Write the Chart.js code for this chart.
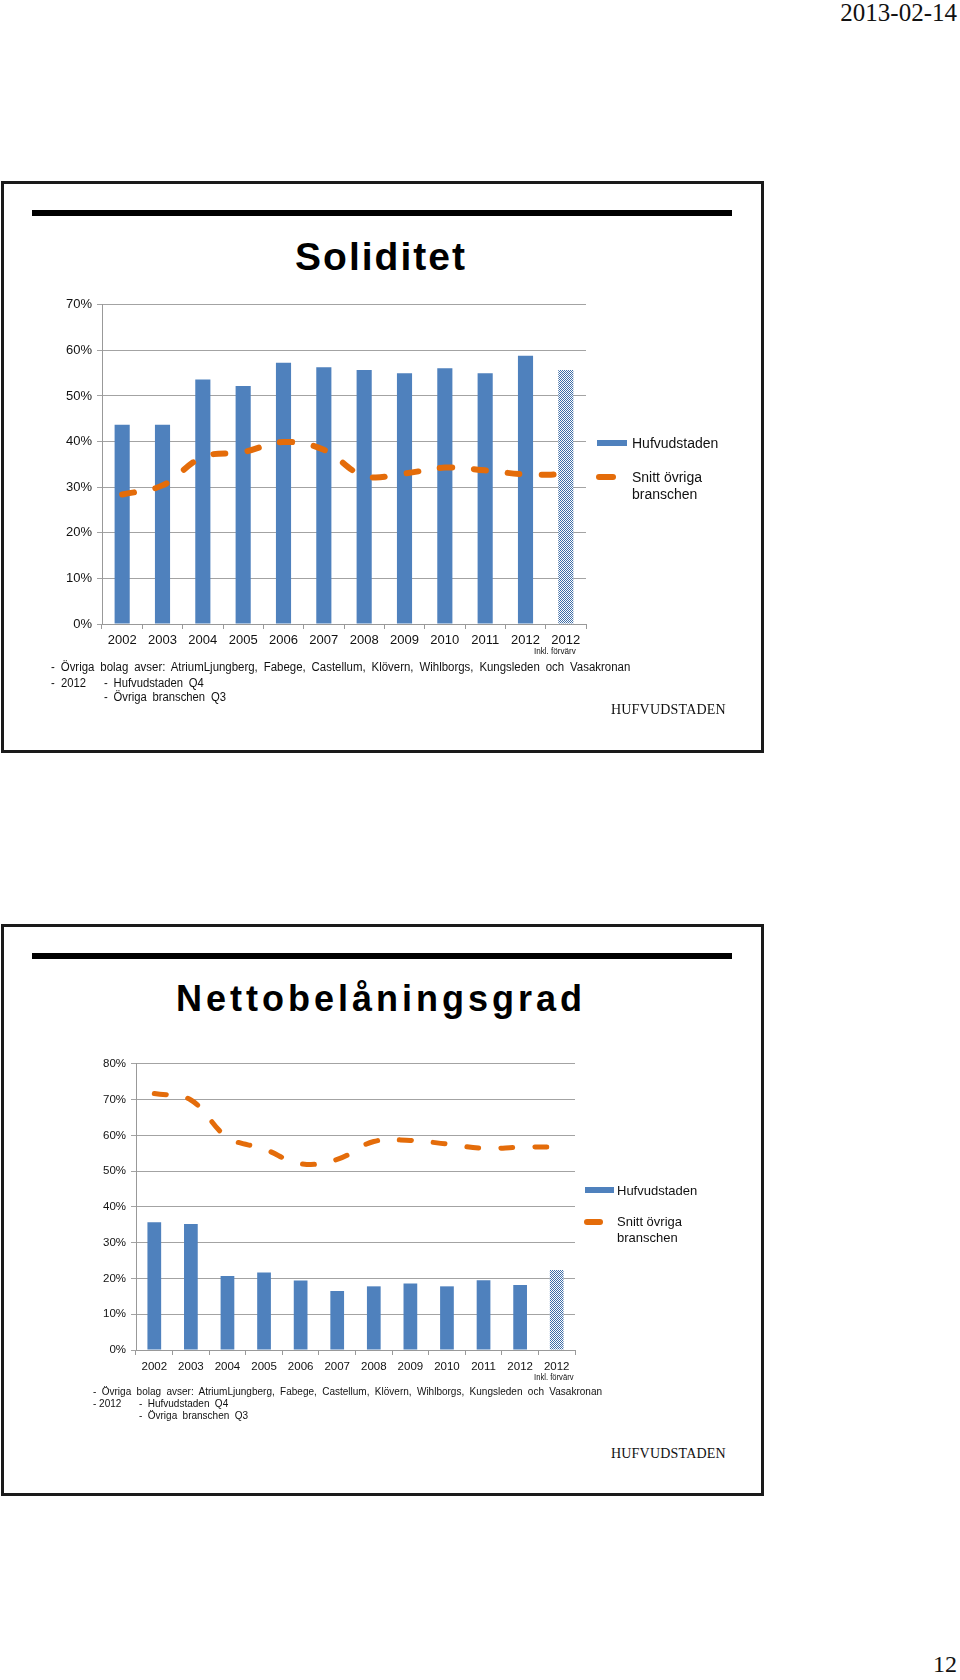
<!DOCTYPE html>
<html>
<head>
<meta charset="utf-8">
<script src="https://cdn.jsdelivr.net/npm/chart.js@4.4.1/dist/chart.umd.min.js"></script>
<style>
  body { margin:0; background:#fff; }
  #page { position:relative; width:960px; height:1680px; overflow:hidden; font-family:"Liberation Sans", Arial, sans-serif; color:#111; }
  .abs { position:absolute; white-space:nowrap; }
  .frame { position:absolute; border:3px solid #1a1a1a; box-sizing:border-box; }
  .bar { position:absolute; background:#000; }
  .title { position:absolute; left:0; width:762px; text-align:center; font-weight:bold; line-height:1; color:#000; }
  .logo { font-family:"Liberation Serif", serif; font-size:14px; line-height:1; color:#111; letter-spacing:0.2px; }
  .note { font-family:"Liberation Sans", sans-serif; line-height:1; color:#111; transform-origin:0 0; }
  canvas { position:absolute; }
</style>
</head>
<body>
<div id="page">
  <div class="abs" style="right:3px; top:0px; font-family:'Liberation Serif',serif; font-size:25px; line-height:1;">2013-02-14</div>

  <!-- Soliditet -->
  <div class="frame" style="left:1px; top:181px; width:763px; height:572px;"></div>
  <div class="bar" style="left:32px; top:210px; width:700px; height:6px;"></div>
  <div class="title" style="top:237px; font-size:39px; letter-spacing:2px;">Soliditet</div>
  <canvas id="c1" width="560" height="362" style="left:40px; top:292px;"></canvas>
  <div class="abs note" style="left:534px; top:647px; font-size:9px; transform:scaleX(0.9);">Inkl. förvärv</div>
  <div class="abs" style="left:597px; top:440px; width:30px; height:6px; background:#4F81BD;"></div>
  <div class="abs" style="left:632px; top:436px; font-size:14px; line-height:1;">Hufvudstaden</div>
  <div class="abs" style="left:596px; top:474px; width:20px; height:6px; border-radius:3px; background:#E46C0A;"></div>
  <div class="abs" style="left:632px; top:469px; font-size:14px; line-height:17px;">Snitt övriga<br>branschen</div>
  <div class="abs note" style="left:51px; top:661px; font-size:12.5px; word-spacing:3px; transform:scaleX(0.915);">- Övriga bolag avser: AtriumLjungberg, Fabege, Castellum, Klövern, Wihlborgs, Kungsleden och Vasakronan</div>
  <div class="abs note" style="left:51px; top:677px; font-size:12.5px; transform:scaleX(0.9);">-&nbsp; 2012</div>
  <div class="abs note" style="left:104px; top:677px; font-size:12.5px; word-spacing:3px; transform:scaleX(0.9);">- Hufvudstaden Q4</div>
  <div class="abs note" style="left:104px; top:691px; font-size:12.5px; word-spacing:3px; transform:scaleX(0.9);">- Övriga branschen Q3</div>
  <div class="abs logo" style="left:611px; top:703px;">HUFVUDSTADEN</div>

  <!-- Nettobelåningsgrad -->
  <div class="frame" style="left:1px; top:924px; width:763px; height:572px;"></div>
  <div class="bar" style="left:32px; top:953px; width:700px; height:6px;"></div>
  <div class="title" style="top:981px; font-size:36px; letter-spacing:4px;">Nettobelåningsgrad</div>
  <canvas id="c2" width="515" height="328" style="left:70px; top:1052px;"></canvas>
  <div class="abs note" style="left:534px; top:1373px; font-size:8.5px; transform:scaleX(0.9);">Inkl. förvärv</div>
  <div class="abs" style="left:585px; top:1187px; width:29px; height:6px; background:#4F81BD;"></div>
  <div class="abs" style="left:617px; top:1184px; font-size:13px; line-height:1;">Hufvudstaden</div>
  <div class="abs" style="left:584px; top:1219px; width:19px; height:6px; border-radius:3px; background:#E46C0A;"></div>
  <div class="abs" style="left:617px; top:1214px; font-size:13px; line-height:16px;">Snitt övriga<br>branschen</div>
  <div class="abs note" style="left:93px; top:1386px; font-size:11.5px; word-spacing:3px; transform:scaleX(0.87);">- Övriga bolag avser: AtriumLjungberg, Fabege, Castellum, Klövern, Wihlborgs, Kungsleden och Vasakronan</div>
  <div class="abs note" style="left:93px; top:1398px; font-size:11.5px; transform:scaleX(0.87);">- 2012</div>
  <div class="abs note" style="left:139px; top:1398px; font-size:11.5px; word-spacing:3px; transform:scaleX(0.87);">- Hufvudstaden Q4</div>
  <div class="abs note" style="left:139px; top:1410px; font-size:11.5px; word-spacing:3px; transform:scaleX(0.87);">- Övriga branschen Q3</div>
  <div class="abs logo" style="left:611px; top:1447px;">HUFVUDSTADEN</div>

  <div class="abs" style="right:3px; top:1652px; font-family:'Liberation Serif',serif; font-size:24px; line-height:1;">12</div>
</div>

<script>
// kategorier (sista stapeln = 2012 inkl. förvärv)
var years = ['2002', '2003', '2004', '2005', '2006', '2007', '2008', '2009', '2010', '2011', '2012', '2012'];

// Soliditet (%)
var soliditetHufvudstaden = [43.7, 43.7, 53.6, 52.2, 57.3, 56.3, 55.7, 55.0, 56.1, 55.0, 58.8, 55.7];
var soliditetSnitt = [28.4, 30.4, 36.6, 37.7, 39.9, 38.2, 32.5, 33.0, 34.3, 33.7, 32.8, 32.8];
var soliditetTicks = [0, 10, 20, 30, 40, 50, 60, 70];

// Nettobelåningsgrad (%)
var nettoHufvudstaden = [35.7, 35.2, 20.7, 21.7, 19.4, 16.5, 17.8, 18.6, 17.8, 19.5, 18.2, 22.4];
var nettoSnitt = [71.7, 69.9, 59.5, 56.2, 52.1, 53.3, 58.3, 58.6, 57.6, 56.4, 56.7, 56.8];
var nettoTicks = [0, 10, 20, 30, 40, 50, 60, 70, 80];

var blue = '#4F81BD';
var orange = '#E46C0A';

// rutigt mönster för 2012 inkl. förvärv
function hatch() {
    var c = document.createElement('canvas');
    c.width = 2; c.height = 2;
    var g = c.getContext('2d');
    g.fillStyle = '#ffffff';
    g.fillRect(0, 0, 2, 2);
    g.fillStyle = '#3f6ea8';
    g.fillRect(0, 0, 1, 1);
    g.fillRect(1, 1, 1, 1);
    return g.createPattern(c, 'repeat');
}

function barColors(n) {
    var cols = [];
    for (var i = 0; i < n; i++) {
        cols.push(i === n - 1 ? hatch() : blue);
    }
    return cols;
}

function ritaGraf(id, bars, line, ticks, opt) {
    var ctx = document.getElementById(id);
    return new Chart(ctx, {
        type: 'bar',
        data: {
            labels: years,
            datasets: [{
                type: 'line',
                label: 'Snitt övriga branschen',
                data: line,
                borderColor: orange,
                borderWidth: opt.lineWidth,
                borderDash: [12, 22],
                borderCapStyle: 'round',
                tension: 0.4,
                pointRadius: 0,
                fill: false,
                order: 0
            }, {
                label: 'Hufvudstaden',
                data: bars,
                backgroundColor: barColors(bars.length),
                barPercentage: 0.375,
                categoryPercentage: 1,
                order: 1
            }]
        },
        options: {
            responsive: false,
            animation: false,
            layout: { padding: { top: 10, right: opt.padRight, left: 0, bottom: 0 } },
            plugins: { legend: { display: false }, tooltip: { enabled: false } },
            scales: {
                x: {
                    offset: true,
                    grid: { offset: true, drawOnChartArea: false, color: '#999', tickLength: 5 },
                    border: { color: '#999' },
                    ticks: { color: '#111', font: { family: 'Liberation Sans', size: opt.font }, padding: opt.xPad, maxRotation: 0, autoSkip: false },
                    afterFit: function(s) { s.height = 30; }
                },
                y: {
                    min: ticks[0],
                    max: ticks[ticks.length - 1],
                    grid: { color: '#a3a3a3', tickLength: 5 },
                    border: { color: '#999' },
                    afterBuildTicks: function(s) { s.ticks = ticks.map(function(v) { return { value: v }; }); },
                    ticks: {
                        color: '#111',
                        font: { family: 'Liberation Sans', size: opt.font },
                        padding: 5,
                        callback: function(v) { return v + '%'; }
                    },
                    afterFit: function(s) { s.width = opt.yWidth; }
                }
            }
        }
    });
}

ritaGraf('c1', soliditetHufvudstaden, soliditetSnitt, soliditetTicks, { lineWidth: 6, padRight: 14, font: 13, xPad: 4, yWidth: 62 });
ritaGraf('c2', nettoHufvudstaden, nettoSnitt, nettoTicks, { lineWidth: 5, padRight: 10, font: 11.5, xPad: 5, yWidth: 66 });
</script>
</body>
</html>
